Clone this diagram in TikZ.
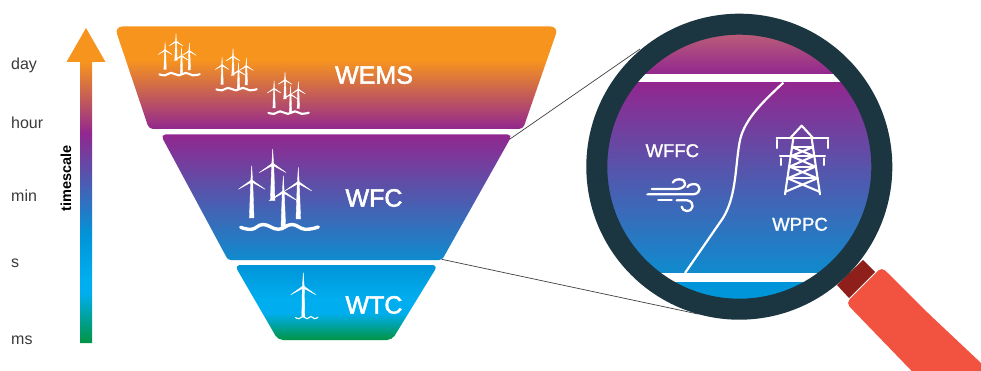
\documentclass[tikz,border=0pt]{standalone}
\usepackage{fontspec}
\setmainfont{Liberation Sans}
\newfontfamily\labelfont[FakeBold=2.2]{Liberation Sans}
\newfontfamily\lensfont[FakeBold=1.3]{Liberation Sans}
\usetikzlibrary{calc}
\definecolor{corange}{HTML}{F7941E}
\definecolor{cpurple}{HTML}{92278F}
\definecolor{cblue}{HTML}{0F8BCE}
\definecolor{cblueb}{HTML}{0095D8}
\definecolor{ccyan}{HTML}{00AEEF}
\definecolor{cgreen}{HTML}{009444}
\definecolor{cmauve}{HTML}{BA5C78}
\definecolor{cring}{HTML}{1B3640}
\definecolor{cred}{HTML}{F15340}
\definecolor{cdred}{HTML}{8E1F1B}
\definecolor{clabel}{HTML}{3A3A3A}
\pgfdeclareverticalshading{sarrow}{100bp}{color(0bp)=(cgreen); color(25bp)=(cgreen); color(33bp)=(ccyan); color(35bp)=(ccyan); color(42bp)=(cblueb); color(58.3bp)=(cpurple); color(69.6bp)=(corange); color(100bp)=(corange)}
\pgfdeclareverticalshading{sone}{100bp}{color(0bp)=(cpurple); color(25bp)=(cpurple); color(58.7bp)=(corange); color(100bp)=(corange)}
\pgfdeclareverticalshading{stwo}{100bp}{color(0bp)=(cblue); color(25bp)=(cblue); color(75bp)=(cpurple); color(100bp)=(cpurple)}
\pgfdeclareverticalshading{sthree}{100bp}{color(0bp)=(cgreen); color(25bp)=(cgreen); color(43bp)=(ccyan); color(52bp)=(ccyan); color(75bp)=(cblueb); color(100bp)=(cblueb)}
\pgfdeclareverticalshading{slenstop}{100bp}{color(0bp)=(cpurple); color(25bp)=(cpurple); color(75bp)=(cmauve); color(100bp)=(cmauve)}
\tikzset{
  x=1pt,y=-1pt,
  biglabel/.style={text=white,font=\fontsize{25}{25}\labelfont,inner sep=0pt},
  lenslabel/.style={text=white,font=\fontsize{18.5}{18.5}\lensfont,inner sep=0pt},
  scalelabel/.style={text=clabel,font=\fontsize{16}{16}\selectfont,inner sep=0pt,anchor=base west},
  zoomline/.style={draw=black!75,line width=.7pt},
  iconline/.style={draw=white,line width=2.3pt,line cap=round,line join=round},
  towerline/.style={draw=white,line width=2.1pt,line cap=round,line join=round},
  turbpart/.style={fill=white,draw=white,line width=.35pt,line join=round},
}
\newcommand\turb[5]{% hub x, hub y, base y, blade length, base half width
  \path[turbpart] (#1-.9,#2) -- (#1,#2-#4) -- (#1+.9,#2) -- cycle;
  \path[turbpart] (#1,#2-1) -- (#1-.89*#4,#2+.57*#4) -- (#1+.6,#2+1) -- cycle;
  \path[turbpart] (#1,#2-1) -- (#1+.89*#4,#2+.57*#4) -- (#1-.6,#2+1) -- cycle;
  \path[turbpart] (#1-1,#2) -- (#1+1,#2) -- (#1+#5,#3) -- (#1-#5,#3) -- cycle;
}
\newcommand\farm[4]{% x, y, scale, wave width
  \begin{scope}[shift={(#1,#2)},scale=#3]
    \turb{32.7}{-62.7}{-26}{15}{2.3}
    \turb{11.7}{-46}{-8.7}{15}{2.3}
    \turb{58.3}{-44.4}{-7.7}{15}{2.3}
    \turb{43.3}{-35}{0}{16}{2.3}
    \draw[white,line width=#4,line cap=round] plot[smooth,tension=.75] coordinates {(.7,.6) (11.7,2.6) (23.3,-2.2) (38.3,2.6) (51.7,-2.2) (65,2.6) (78.3,.3)};
  \end{scope}
}
\begin{document}
\begin{tikzpicture}
\useasboundingbox (0,0) rectangle (981,371);
\fill[white] (0,0) rectangle (981,371);

% connector end points
\coordinate (wfcTR) at (510,139);
\coordinate (lensTL) at (640,49);
\coordinate (wfcBR) at (441.7,259.3);
\coordinate (lensBL) at (698,314);
\draw[zoomline] (wfcTR) -- (lensTL);
\draw[zoomline] (wfcBR) -- (lensBL);

% timescale arrow
\shade[shading=sarrow] (86,28) -- (105.5,62) -- (92,62) -- (92,343) -- (80,343) -- (80,62) -- (66.5,62) -- cycle;
\node[scalelabel] (lday) at (11,70) {day};
\node[scalelabel] (lhour) at (11,129) {hour};
\node[scalelabel] (lmin) at (11,202) {min};
\node[scalelabel] (ls) at (11,267) {s};
\node[scalelabel] (lms) at (11,344) {ms};
\node[rotate=90,font=\fontsize{14.5}{14.5}\selectfont\bfseries,text=black,inner sep=0pt] (ltime) at (66,178.5) {timescale};

% funnel
\shade[shading=sone] (330,26.5) [rounded corners=8pt] -- (558.5,26.5) [rounded corners=4pt] -- (523,129) -- (149,129) [rounded corners=8pt] -- (114.5,26.5) -- cycle;
\shade[shading=stwo] (330,134.5) [rounded corners=5pt] -- (512.5,134.5) [rounded corners=3pt] -- (442,260) -- (228,260) [rounded corners=5pt] -- (160.5,134.5) -- cycle;
\shade[shading=sthree] (330,265) [rounded corners=6pt] -- (438,265) [rounded corners=5pt] -- (392,340) -- (278,340) [rounded corners=6pt] -- (234.5,265) -- cycle;

% turbines
\farm{159}{74}{.52}{2.1pt}
\farm{216}{89}{.52}{2.1pt}
\farm{268}{112.5}{.52}{2.1pt}
\farm{240}{226.7}{1}{3.4pt}
\turb{303.3}{286.7}{317}{14}{1.5}
\draw[white,line width=1.1pt,line cap=round] plot[smooth,tension=.75] coordinates {(295.5,317.5) (299,318.7) (303,316.5) (307,318.7) (311,316.5) (314.5,318.7) (318,317.2)};

\node[biglabel] (wems) at (374,75) {WEMS};
\node[biglabel] (wfc) at (374,198) {WFC};
\node[biglabel] (wtc) at (374,305) {WTC};

% magnifier handle
\fill[cdred] (863,260) -- (875,272) -- (849,298) -- (837,285) -- cycle;
\fill[cred] (930,315) -- (981,363) -- (981,371) -- (911.7,371) [rounded corners=5pt] -- (846,303) -- (881.7,267) [sharp corners] -- cycle;

% lens
\begin{scope}
  \clip (739.3,166.7) circle [radius=133];
  \shade[shading=slenstop] (590,34) rectangle (890,74);
  \fill[white] (590,74) rectangle (890,83);
  \shade[shading=stwo] (590,83) rectangle (890,273);
  \fill[white] (590,273) rectangle (890,282);
  \fill[cblueb] (590,282) rectangle (890,305);
\end{scope}
\draw[cring,line width=21pt] (739.3,166.7) circle [radius=142.5];

% split line
\draw[white,line width=2.2pt] (783.3,82.7) .. controls (765,100) and (745,118) .. (740,140) .. controls (735,165) and (737,195) .. (723,218) -- (685,273);

\node[lenslabel] (wffc) at (672.3,150.7) {WFFC};
\node[lenslabel] (wppc) at (800,224.3) {WPPC};

% wind icon
\begin{scope}[shift={(580,10)},scale=1/3]
  \draw[iconline] (215,537) -- (292,537) .. controls (322,535) and (322,508) .. (298,508) .. controls (288,508) and (280,512) .. (278,518);
  \draw[iconline] (205,553) -- (340,553) .. controls (365,550) and (365,522) .. (340,522) .. controls (332,522) and (325,526) .. (322,531);
  \draw[iconline] (235,571) -- (275,571);
  \draw[iconline] (290,571) -- (322,571) .. controls (345,575) and (342,603) .. (320,603) .. controls (312,603) and (306,597) .. (305,590);
  \fill[white] (202,553) circle [radius=3.5];
\end{scope}

% pylon icon
\begin{scope}[shift={(580,10)},scale=1/3]
  \draw[towerline] (630,385) -- (665,347) -- (700,385);
  \draw[towerline] (590,385) -- (745,385);
  \draw[towerline] (600,438) -- (735,438);
  \draw[towerline] (640,385) -- (615,553);
  \draw[towerline] (695,385) -- (720,553);
  \draw[towerline] (638,412) -- (697,412);
  \draw[towerline] (638,412) -- (701,438) (697,412) -- (634,438);
  \draw[towerline] (629,470) -- (706,470);
  \draw[towerline] (634,438) -- (706,470) (701,438) -- (629,470);
  \draw[towerline] (623,505) -- (712,505);
  \draw[towerline] (629,470) -- (712,505) (706,470) -- (623,505);
  \draw[towerline] (623,505) -- (718,545) (712,505) -- (617,545);
  \draw[towerline] (592,390) -- (592,414) (743,390) -- (743,414);
  \draw[towerline] (603,445) -- (603,465) (732,445) -- (732,465);
\end{scope}
\end{tikzpicture}
\end{document}
